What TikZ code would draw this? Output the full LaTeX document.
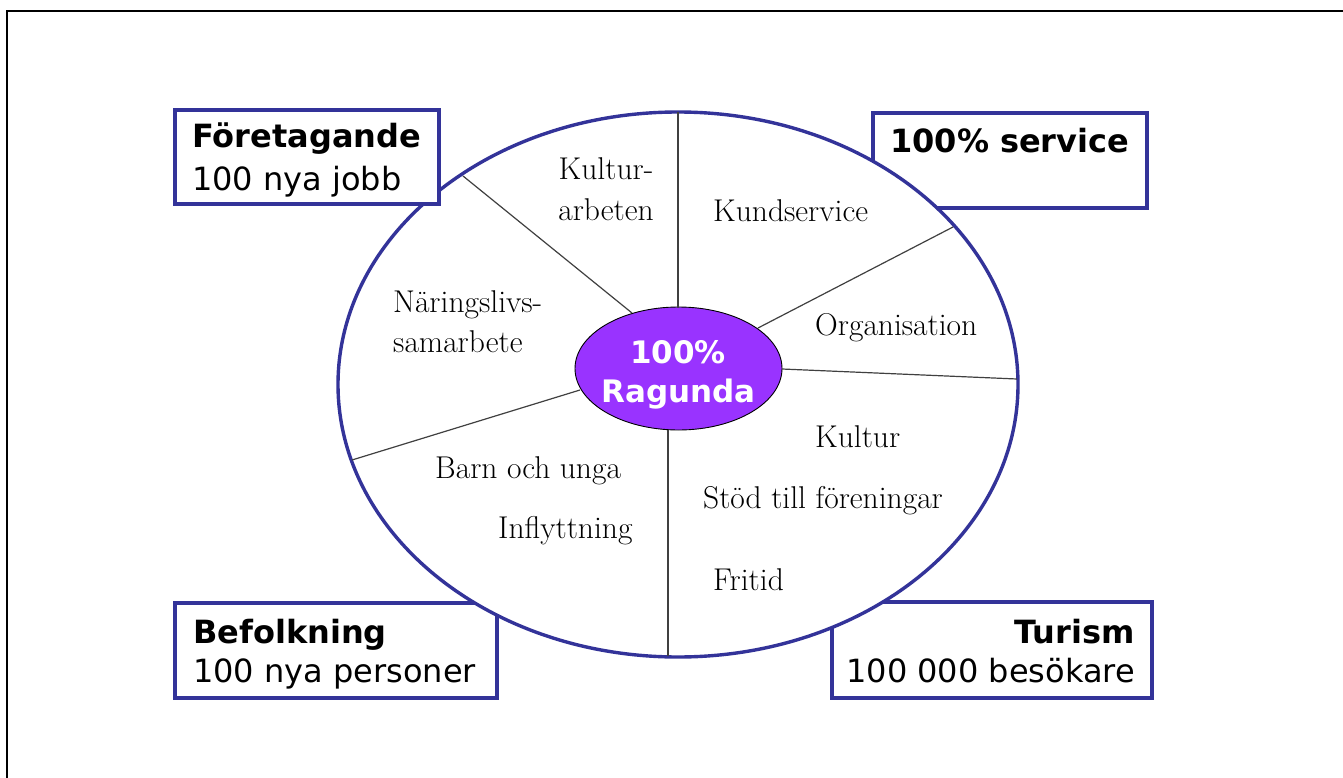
\documentclass[tikz,border=0pt]{standalone}
\usepackage{fontspec}
\usetikzlibrary{shapes.geometric}
\newfontfamily\vsans{DejaVu Sans}
\definecolor{boxblue}{HTML}{333399}
\definecolor{ragpurple}{HTML}{9933FF}
\definecolor{divgray}{HTML}{404040}
\begin{document}
\begin{tikzpicture}[x=1pt,y=-1pt,
  goalbox/.style={draw=boxblue,line width=3.2pt,fill=white,rectangle,inner sep=0pt,outer sep=0pt},
  boxhead/.style={inner sep=0pt,font=\vsans\bfseries\fontsize{32}{38}\selectfont},
  boxtext/.style={inner sep=0pt,font=\vsans\fontsize{32}{38}\selectfont},
  seglabel/.style={inner sep=0pt,anchor=base west,font=\fontsize{31.5}{36}\selectfont},
  divider/.style={draw=divgray,line width=1.2pt}]
\useasboundingbox (0,0) rectangle (1343,778);
\draw[line width=2.5pt] (7,779) -- (7,11) -- (1344,11);

% boxes behind the big ellipse
\node[goalbox,minimum width=274,minimum height=95] (service) at (1010,160.5) {};
\node[goalbox,minimum width=322,minimum height=95] (befolk) at (336,650.5) {};
\node[goalbox,minimum width=320,minimum height=96] (turism) at (992,650) {};

% big ellipse
\node[ellipse,draw=boxblue,line width=3.4pt,fill=white,inner sep=0pt,outer sep=0pt,
      minimum width=680,minimum height=545] (outer) at (678,384.5) {};

% inner ellipse
\node[ellipse,draw=black,line width=0.9pt,fill=ragpurple,inner sep=0pt,outer sep=0pt,
      minimum width=207,minimum height=123] (inner) at (678.5,368.5) {};

% dividers
\coordinate (d1a) at (678,112.5);  \coordinate (d1b) at (678,307.5);
\coordinate (d2a) at (463,176);    \coordinate (d2b) at (632,313);
\coordinate (d3a) at (352,460);    \coordinate (d3b) at (580,390);
\coordinate (d4a) at (668,656);    \coordinate (d4b) at (668,430);
\coordinate (d5a) at (1017,379);   \coordinate (d5b) at (782,369);
\coordinate (d6a) at (953,227);    \coordinate (d6b) at (758,328);
\draw[divider] (d1a) -- (d1b);
\draw[divider] (d2a) -- (d2b);
\draw[divider] (d3a) -- (d3b);
\draw[divider] (d4a) -- (d4b);
\draw[divider] (d5a) -- (d5b);
\draw[divider] (d6a) -- (d6b);

% center text
\node[inner sep=0pt,anchor=base,text=white,font=\vsans\bfseries\fontsize{31}{36}\selectfont] (c1) at (678,363) {100\%};
\node[inner sep=0pt,anchor=base,text=white,font=\vsans\bfseries\fontsize{31}{36}\selectfont] (c2) at (678.5,402) {Ragunda};

% segment labels
\node[seglabel,anchor=base] (l1) at (606,180) {Kultur-};
\node[seglabel,anchor=base] (l2) at (606,220) {arbeten};
\node[seglabel] (l3) at (713,222) {Kundservice};
\node[seglabel] (l4) at (815,335) {Organisation};
\node[seglabel] (l5) at (393,312) {Näringslivs-};
\node[seglabel] (l6) at (393,352) {samarbete};
\node[seglabel] (l7) at (435,478) {Barn och unga};
\node[seglabel] (l8) at (498,538) {Inflyttning};
\node[seglabel] (l9) at (815,447) {Kultur};
\node[seglabel] (l10) at (703,508) {Stöd till föreningar};
\node[seglabel] (l11) at (713,590) {Fritid};

% Företagande box on top
\node[goalbox,minimum width=264,minimum height=94] (foretag) at (307,157) {};

% box texts
\node[boxhead,anchor=base west] (t1) at (192,148) {Företagande};
\node[boxtext,anchor=base west] (t2) at (192,190) {100 nya jobb};
\node[boxhead,anchor=base west] (t3) at (890,153) {100\% service};
\node[boxhead,anchor=base west] (t4) at (193,643) {Befolkning};
\node[boxtext,anchor=base west] (t5) at (193,682) {100 nya personer};
\node[boxhead,anchor=base east] (t6) at (1135,643) {Turism};
\node[boxtext,anchor=base east] (t7) at (1135,682) {100 000 besökare};
\end{tikzpicture}
\end{document}
